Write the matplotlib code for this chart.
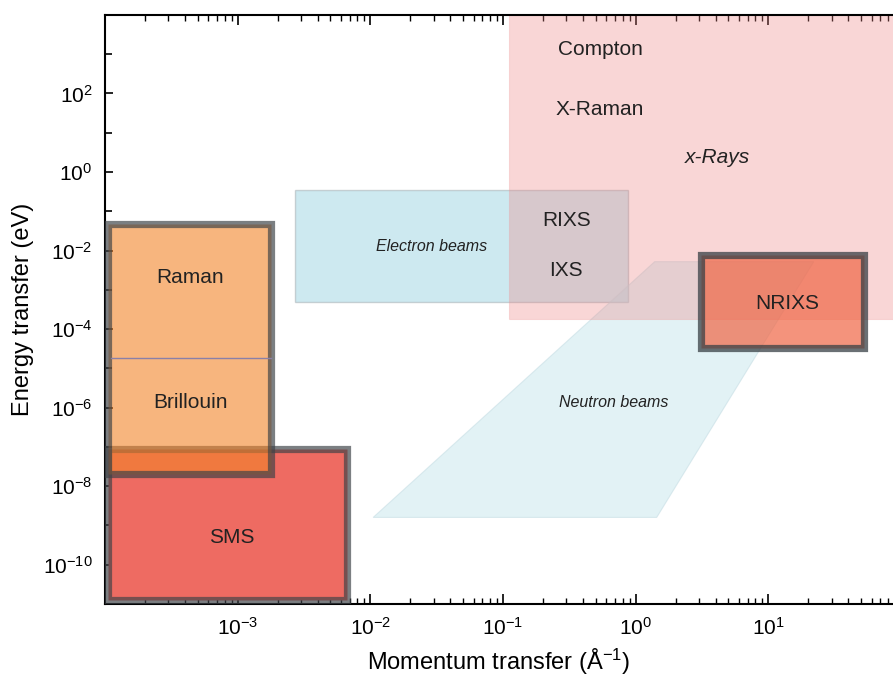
import matplotlib
matplotlib.use("Agg")
import matplotlib.pyplot as plt
from matplotlib.patches import Rectangle, Polygon
from matplotlib.ticker import FixedLocator, LogLocator, NullFormatter

plt.rcParams['font.family'] = ['Liberation Sans', 'DejaVu Sans']
plt.rcParams['mathtext.fontset'] = 'custom'
plt.rcParams['mathtext.rm'] = 'Liberation Sans'
plt.rcParams['mathtext.it'] = 'Liberation Sans:italic'
plt.rcParams['mathtext.bf'] = 'Liberation Sans:bold'

# Technique ranges: (q_min, q_max) in 1/Angstrom, (E_min, E_max) in eV
xray_q = (0.11, 1000.0)
xray_E = (1.8e-4, 1e6)
electron_q = (2.7e-3, 0.87)
electron_E = (5.0e-4, 0.35)
neutron_q = [0.0105, 1.44, 22.0, 1.39]          # parallelogram corners
neutron_E = [1.6e-9, 1.6e-9, 5.2e-3, 5.2e-3]
nrixs_q = (3.1, 53.0)
nrixs_E = (3.3e-5, 7.9e-3)
raman_q = (1.05e-4, 1.78e-3)
raman_E = (2.1e-8, 0.046)
brillouin_split_E = 1.8e-5
sms_q = (1.05e-4, 6.7e-3)
sms_E = (1.25e-11, 8.7e-8)

labels = ["Compton", "X-Raman", "x-Rays", "RIXS", "IXS", "Electron beams",
          "Neutron beams", "NRIXS", "Raman", "Brillouin", "SMS"]
label_q = [0.54, 0.54, 4.1, 0.30, 0.30, 0.029, 0.68, 14.0, 4.4e-4, 4.4e-4, 9.0e-4]
label_E = [10**3.17, 10**1.64, 10**0.41, 10**-1.18, 10**-2.46, 10**-1.87,
           10**-5.82, 10**-3.31, 10**-2.64, 10**-5.82, 10**-9.25]
label_italic = [False, False, True, False, False, True, True, False, False, False, False]
label_size = [15, 15, 15, 15, 15, 11.5, 11.5, 15, 15, 15, 15]

x_lim = (1e-4, 87.0)
y_lim = (1e-11, 1e4)
y_major = [1e-10, 1e-8, 1e-6, 1e-4, 1e-2, 1e0, 1e2]
y_minor = [1e-9, 1e-7, 1e-5, 1e-3, 1e-1, 1e1, 1e3]
x_major = [1e-3, 1e-2, 1e-1, 1e0, 1e1]

fig = plt.figure(figsize=(8.93, 6.76), dpi=100)
ax = fig.add_axes([0.1176, 0.1065, 1.0 - 0.1176, 0.978 - 0.1065])
ax.set_xscale('log')
ax.set_yscale('log')
ax.set_xlim(*x_lim)
ax.set_ylim(*y_lim)


def rect(q, E, **kw):
    return Rectangle((q[0], E[0]), q[1] - q[0], E[1] - E[0], **kw)


border = dict(linewidth=5.2, joinstyle='miter')
border_col = (0.24, 0.26, 0.28, 0.68)

# Electron beams (under x-rays)
ax.add_patch(rect(electron_q, electron_E, facecolor=(0.61, 0.83, 0.89, 0.5),
                  edgecolor=(0.6, 0.63, 0.65, 0.45), linewidth=1.0, zorder=1))
# Neutron beams
ax.add_patch(Polygon(list(zip(neutron_q, neutron_E)), closed=True,
                     facecolor=(0.72, 0.88, 0.91, 0.4),
                     edgecolor=(0.75, 0.85, 0.88, 0.5), linewidth=0.8, zorder=1.5))
# x-Rays region
ax.add_patch(rect(xray_q, xray_E, facecolor=(0.93, 0.52, 0.52, 0.33),
                  edgecolor=(0.93, 0.6, 0.6, 0.3), linewidth=0.8, zorder=2))
# NRIXS
ax.add_patch(rect(nrixs_q, nrixs_E, facecolor=(0.94, 0.40, 0.27, 0.7),
                  edgecolor=(0.22, 0.25, 0.27, 0.75), zorder=3, **border))
# SMS
ax.add_patch(rect(sms_q, sms_E, facecolor='#ee6b62', zorder=3, clip_on=False,
                  edgecolor=border_col, **border))
# Raman / Brillouin
ax.add_patch(rect(raman_q, raman_E, facecolor=(0.953, 0.518, 0.157, 0.6), zorder=4,
                  clip_on=False, edgecolor=border_col, **border))
ax.plot([raman_q[0] * 1.05, raman_q[1]], [brillouin_split_E] * 2,
        color='#8a80a8', linewidth=1.0, zorder=4.5)

for txt, q, E, it, fs in zip(labels, label_q, label_E, label_italic, label_size):
    ax.text(q, E, txt, ha='center', va='center_baseline', fontsize=fs,
            style='italic' if it else 'normal', color='#222222', zorder=6)

ax.yaxis.set_major_locator(FixedLocator(y_major))
ax.yaxis.set_minor_locator(FixedLocator(y_minor))
ax.yaxis.set_minor_formatter(NullFormatter())
ax.xaxis.set_major_locator(FixedLocator(x_major))
ax.xaxis.set_minor_locator(LogLocator(base=10, subs=range(2, 10), numticks=20))
ax.xaxis.set_minor_formatter(NullFormatter())

ax.tick_params(axis='both', which='major', labelsize=15, color='black', width=1.2)
ax.tick_params(axis='y', which='both', direction='in', length=6, pad=9, right=False)
ax.tick_params(axis='y', which='minor', length=5, width=1.2)
ax.tick_params(axis='x', which='major', direction='in', length=7, pad=9, top=True)
ax.tick_params(axis='x', which='minor', direction='in', length=4, width=1.0, top=True)

for s in ('left', 'bottom', 'top'):
    ax.spines[s].set_linewidth(1.5)
ax.spines['right'].set_visible(False)

ax.set_xlabel('Momentum transfer (Å$^{-1}$)', fontsize=17, labelpad=6)
ax.set_ylabel('Energy transfer (eV)', fontsize=17, labelpad=6)

fig.savefig('out.png', dpi=100)
